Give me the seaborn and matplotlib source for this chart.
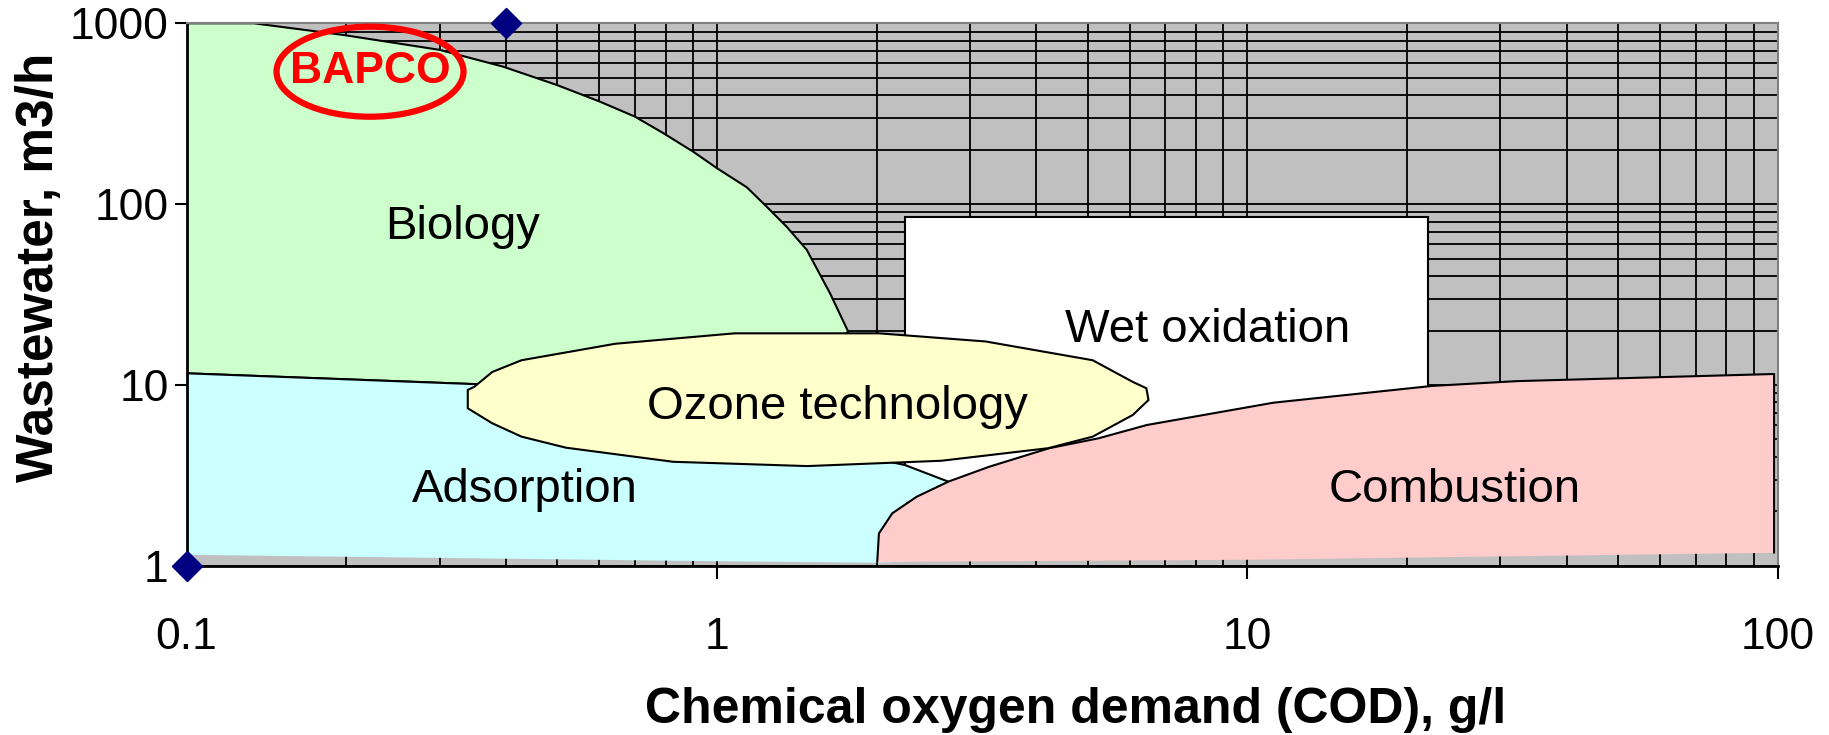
import matplotlib
matplotlib.use("Agg")
import matplotlib.pyplot as plt
from matplotlib.patches import Ellipse
import seaborn as sns

# region outlines: COD (g/l) vs wastewater flow (m3/h)
biology_x = [0.1, 0.134, 0.197, 0.30, 0.395, 0.499, 0.60, 0.70, 0.792, 0.902, 1.0,
             1.138, 1.24, 1.353, 1.476, 1.633, 1.768, 1.5, 0.6, 0.352, 0.1]
biology_y = [1000, 1000, 863, 713, 576, 456, 370, 305, 247, 195, 158,
             124, 97, 75, 56, 32.2, 19.7, 14, 11, 10.1, 11.6]

adsorption_x = [0.1, 0.352, 1.0, 2.26, 2.73, 3.3, 3.2, 2.0, 1.0, 0.1]
adsorption_y = [11.6, 10.1, 6.0, 3.61, 2.92, 2.0, 1.1, 1.04, 1.06, 1.15]

wet_x = [2.26, 21.9, 21.9, 2.26]
wet_y = [2.0, 2.0, 85.3, 85.3]

combustion_x = [2.005, 2.02, 2.14, 2.38, 2.73, 3.26, 4.23, 5.24, 6.47, 11.2, 22.3, 32.2,
                98.4, 98.4, 10, 2.005]
combustion_y = [1.05, 1.51, 1.95, 2.41, 2.92, 3.53, 4.47, 5.07, 6.01, 7.98, 9.88, 10.5,
                11.5, 1.18, 1.08, 1.05]

ozone_x = [0.339, 0.339, 0.377, 0.428, 0.519, 0.827, 1.48, 2.65, 4.21, 5.11, 6.08, 6.51,
           6.45, 6.08, 5.11, 3.21, 2.02, 1.08, 0.643, 0.428, 0.377, 0.349]
ozone_y = [9.38, 7.43, 6.14, 5.18, 4.50, 3.76, 3.56, 3.81, 4.47, 5.18, 6.82, 8.26,
           9.59, 10.4, 13.7, 17.4, 19.3, 19.3, 16.9, 13.7, 11.8, 9.79]

label_text = ["Biology", "Adsorption", "Ozone technology", "Wet oxidation", "Combustion"]
label_x = [0.332, 0.434, 1.687, 8.40, 24.6]
label_y = [74.3, 2.63, 7.55, 20.1, 2.63]

marker_x = [0.1, 0.4]
marker_y = [1, 1000]

x_ticks = [0.1, 1, 10, 100]
x_ticklabels = ["0.1", "1", "10", "100"]
y_ticks = [1, 10, 100, 1000]
y_ticklabels = ["1", "10", "100", "1000"]

sns.set_style("white")
plt.rcParams["font.family"] = ["Liberation Sans", "DejaVu Sans"]
plt.rcParams["text.color"] = "black"
plt.rcParams["axes.labelcolor"] = "black"
plt.rcParams["xtick.color"] = "black"
plt.rcParams["ytick.color"] = "black"

fig = plt.figure(figsize=(18.29, 7.35), dpi=100)
ax = fig.add_axes([0.102, 0.2302, 0.870, 0.7381])
ax.set_xscale("log")
ax.set_yscale("log")
ax.set_xlim(0.1, 100)
ax.set_ylim(1, 1000)
ax.set_facecolor("#C0C0C0")
ax.set_axisbelow(True)
ax.grid(which="both", color="black", lw=1.3)

lc = "black"
lw = 1.5
# wet oxidation box
ax.fill(wet_x, wet_y, fc="white", ec=lc, lw=lw, zorder=1)
# biology
ax.fill(biology_x, biology_y, fc="#CCFFCC", ec="none", zorder=1.1)
ax.plot(biology_x, biology_y, color=lc, lw=lw, zorder=1.15)
# adsorption
ax.fill(adsorption_x, adsorption_y, fc="#CCFFFF", ec="none", zorder=1.2)
ax.plot(adsorption_x[:7], adsorption_y[:7], color=lc, lw=lw, zorder=1.25)
# combustion
ax.fill(combustion_x, combustion_y, fc="#FFCCCC", ec="none", zorder=1.3)
ax.plot(combustion_x[:14], combustion_y[:14], color=lc, lw=lw, zorder=1.35)
# ozone
ax.fill(ozone_x, ozone_y, fc="#FFFFCC", ec=lc, lw=lw, zorder=1.4)

for t, x, y in zip(label_text, label_x, label_y):
    ax.text(x, y, t, fontsize=34, ha="center", va="center", zorder=3)

sns.scatterplot(x=marker_x, y=marker_y, marker="D", s=230, color="#000080",
                edgecolor="#000080", ax=ax, clip_on=False, zorder=6)

ax.add_patch(Ellipse((0.1153, 0.9108), 0.1175, 0.166, transform=ax.transAxes,
                     fc="none", ec="#FF0000", lw=4.5, zorder=4))
ax.text(0.222, 541, "BAPCO", fontsize=32, fontweight="bold", color="#FF0000",
        ha="center", va="center", zorder=4)

ax.set_xticks(x_ticks)
ax.set_xticklabels(x_ticklabels)
ax.set_yticks(y_ticks)
ax.set_yticklabels(y_ticklabels)
ax.tick_params(which="minor", length=0)
ax.tick_params(axis="x", which="major", direction="out", length=9, width=1.5,
               labelsize=32, pad=28, bottom=True)
ax.tick_params(axis="y", which="major", direction="out", length=9, width=1.5,
               labelsize=32, pad=4, left=True)

for s in ["left", "bottom"]:
    ax.spines[s].set_color("black")
    ax.spines[s].set_linewidth(2)
for s in ["top", "right"]:
    ax.spines[s].set_color("#808080")
    ax.spines[s].set_linewidth(1.5)

ax.set_xlabel("Chemical oxygen demand (COD), g/l", fontsize=36, fontweight="bold")
ax.xaxis.set_label_coords(0.5586, -0.224)
ax.set_ylabel("Wastewater, m3/h", fontsize=37, fontweight="bold")
ax.yaxis.set_label_coords(-0.077, 0.55)

fig.savefig("out.png", dpi=100)
